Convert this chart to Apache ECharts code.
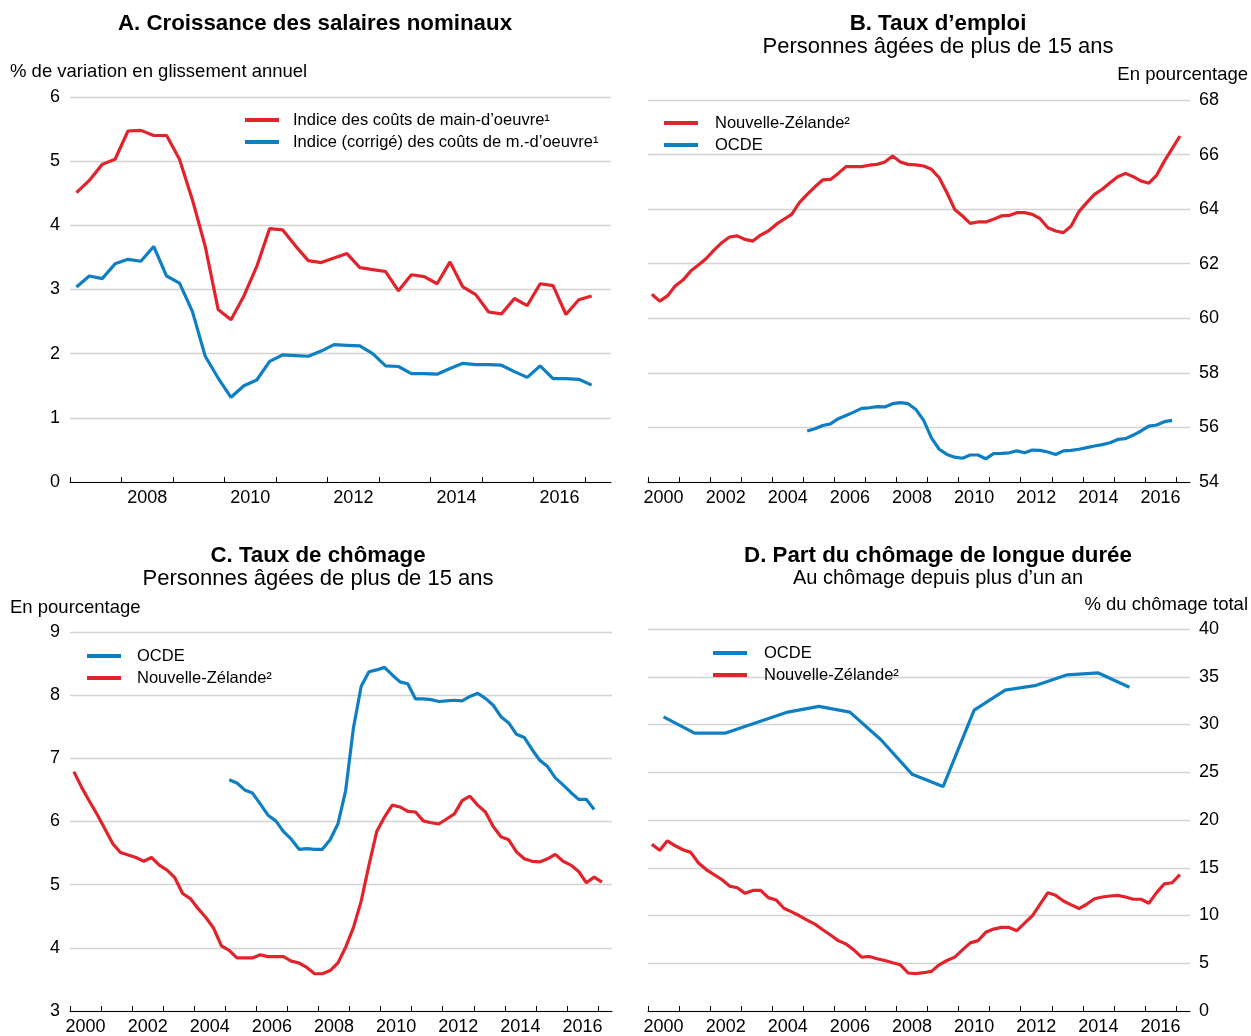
<!DOCTYPE html>
<html>
<head>
<meta charset="utf-8">
<script src="https://cdn.jsdelivr.net/npm/echarts@6/dist/echarts.min.js"></script>
<style>
html,body{margin:0;padding:0;background:#fff;}
#chart{width:1251px;height:1036px;}
</style>
</head>
<body>
<div id="chart"></div>
<script>
// ---------- Data ----------
// Panel A: quarterly, 2007Q1 - 2017Q1 (% y/y)
const A_START = 2007;
const A_lci = [4.51,4.70,4.95,5.03,5.47,5.48,5.40,5.40,5.03,4.40,3.67,2.69,2.53,2.90,3.36,3.95,3.93,3.68,3.45,3.42,3.49,3.56,3.34,3.31,3.28,2.98,3.23,3.20,3.09,3.43,3.04,2.92,2.65,2.62,2.86,2.75,3.09,3.06,2.61,2.84,2.90];
const A_lciAdj = [3.04,3.21,3.17,3.40,3.47,3.44,3.67,3.21,3.10,2.66,1.96,1.62,1.32,1.50,1.59,1.88,1.98,1.97,1.96,2.04,2.14,2.13,2.12,2.00,1.81,1.80,1.69,1.69,1.68,1.77,1.85,1.83,1.83,1.82,1.72,1.63,1.81,1.61,1.61,1.60,1.51];

// Panel B: employment rate, NZ 2000Q1-2017Q1, OECD 2005Q1-2016Q4
const B_NZ_START = 2000;
const B_nz = [60.88,60.63,60.82,61.18,61.40,61.73,61.95,62.19,62.50,62.77,62.98,63.02,62.89,62.83,63.05,63.20,63.44,63.63,63.81,64.24,64.54,64.82,65.07,65.09,65.31,65.56,65.56,65.56,65.61,65.64,65.73,65.95,65.73,65.64,65.62,65.58,65.46,65.15,64.60,63.99,63.75,63.48,63.53,63.53,63.63,63.75,63.77,63.87,63.87,63.81,63.65,63.32,63.20,63.14,63.38,63.91,64.24,64.54,64.73,64.97,65.19,65.31,65.19,65.03,64.95,65.24,65.76,66.22,66.68];
const B_OECD_START = 2005;
const B_oecd = [55.87,55.95,56.07,56.13,56.32,56.44,56.56,56.70,56.72,56.76,56.75,56.87,56.91,56.87,56.66,56.26,55.62,55.20,55.01,54.91,54.87,54.99,54.99,54.85,55.04,55.05,55.07,55.14,55.07,55.17,55.16,55.10,55.01,55.14,55.16,55.20,55.26,55.32,55.37,55.44,55.56,55.59,55.72,55.87,56.05,56.09,56.21,56.26];

// Panel C: unemployment rate, NZ 2000Q1-2017Q1, OECD 2005Q1-2016Q4
const C_NZ_START = 2000;
const C_nz = [6.79,6.54,6.32,6.11,5.88,5.65,5.51,5.47,5.43,5.37,5.43,5.31,5.23,5.11,4.86,4.78,4.62,4.48,4.31,4.03,3.96,3.84,3.84,3.84,3.89,3.86,3.86,3.86,3.79,3.76,3.69,3.59,3.59,3.64,3.76,4.01,4.32,4.74,5.31,5.84,6.07,6.26,6.23,6.16,6.15,6.01,5.98,5.96,6.04,6.12,6.33,6.40,6.26,6.15,5.92,5.76,5.71,5.52,5.41,5.37,5.36,5.41,5.48,5.37,5.31,5.21,5.03,5.12,5.04];
const C_OECD_START = 2005;
const C_oecd = [6.66,6.61,6.50,6.45,6.28,6.10,6.01,5.84,5.72,5.56,5.57,5.56,5.56,5.71,5.96,6.49,7.48,8.14,8.37,8.40,8.44,8.32,8.21,8.18,7.94,7.94,7.93,7.90,7.91,7.92,7.91,7.98,8.03,7.95,7.84,7.66,7.56,7.38,7.33,7.14,6.97,6.87,6.69,6.58,6.46,6.35,6.35,6.19];

// Panel D: long-term unemployment share, NZ quarterly 2000Q1-2017Q1, OECD annual 2000-2015
const D_NZ_START = 2000;
const D_nz = [17.47,16.82,17.82,17.30,16.89,16.61,15.50,14.81,14.29,13.77,13.08,12.91,12.32,12.63,12.63,11.87,11.63,10.76,10.38,9.97,9.52,9.10,8.51,7.96,7.37,7.02,6.40,5.64,5.71,5.47,5.29,5.05,4.84,3.98,3.91,4.01,4.15,4.84,5.29,5.64,6.40,7.13,7.37,8.24,8.58,8.75,8.75,8.41,9.20,9.97,11.18,12.39,12.11,11.52,11.11,10.73,11.18,11.76,11.94,12.04,12.11,11.94,11.70,11.70,11.28,12.39,13.32,13.43,14.29];
const D_OECD_START = 2000;
const D_oecd = [30.8,29.1,29.1,30.2,31.3,31.9,31.3,28.4,24.8,23.5,31.5,33.6,34.1,35.2,35.4,33.9];

// Axis ticks / labels
const A_tickYears = [2007,2008,2009,2010,2011,2012,2013,2014,2015,2016,2017];
const A_labelYears = [2008,2010,2012,2014,2016];
const L_tickYears = [2000,2001,2002,2003,2004,2005,2006,2007,2008,2009,2010,2011,2012,2013,2014,2015,2016,2017];
const L_labelYears = [2000,2002,2004,2006,2008,2010,2012,2014,2016];

// Series names
const N_LCI = 'Indice des coûts de main-d’oeuvre¹';
const N_LCIADJ = 'Indice (corrigé) des coûts de m.-d’oeuvre¹';
const N_NZ = 'Nouvelle-Zélande²';
const N_OECD = 'OCDE';

// ---------- Helpers ----------
const RED = '#e2232b';
const BLUE = '#0f7fc4';
const FONT = '"Liberation Sans", Arial, Helvetica, sans-serif';
const quarterly = (start, vals) => vals.map((v, i) => [start + (i + 0.5) / 4, v]);
const annual = (start, vals) => vals.map((v, i) => [start + i + 0.5, v]);

function xAxisDef(gridIndex, min, max, ticks, labels) {
  return {
    type: 'value', gridIndex, min, max, position: 'bottom',
    axisLine: {show: true, lineStyle: {color: '#000', width: 1}},
    axisTick: {show: true, inside: true, length: 5, lineStyle: {color: '#000', width: 1}, customValues: ticks},
    axisLabel: {show: true, customValues: labels.map(y => y + 0.5), formatter: v => String(Math.floor(v)),
      color: '#000', fontSize: 18, fontFamily: FONT, margin: 7},
    splitLine: {show: false}
  };
}
function yAxisDef(gridIndex, min, max, interval, pos) {
  return {
    type: 'value', gridIndex, min, max, interval, position: pos,
    axisLine: {show: false}, axisTick: {show: false},
    axisLabel: {color: '#000', fontSize: 18, fontFamily: FONT, margin: pos === 'left' ? 10 : 9},
    splitLine: {show: true, lineStyle: {color: '#d3d3d3', width: 1.3}}
  };
}
function lineSeries(name, data, color, idx) {
  return {
    type: 'line', name, data, xAxisIndex: idx, yAxisIndex: idx,
    showSymbol: false, symbol: 'none', smooth: false, animation: false,
    lineStyle: {color, width: 3.2}, itemStyle: {color}
  };
}
function legendDef(names, left, top, padLeft) {
  return {
    orient: 'vertical', left, top, data: names, padding: 0,
    icon: 'rect', itemWidth: 34, itemHeight: 4, itemGap: 2,
    selectedMode: false,
    textStyle: {color: '#000', fontSize: 16.5, fontFamily: FONT, lineHeight: 20, padding: [0, 0, 0, padLeft]}
  };
}
function txt(text, x, y, opts) {
  return {
    type: 'text', x, y, silent: true,
    style: {text, fill: '#000', font: (opts.bold ? 'bold ' : '') + opts.size + 'px ' + FONT,
      textAlign: opts.align || 'center', textVerticalAlign: 'middle'}
  };
}

const option = {
  animation: false,
  backgroundColor: '#fff',
  grid: [
    {left: 70, top: 97, width: 541, height: 385},
    {left: 648, top: 100, width: 542, height: 382},
    {left: 70, top: 632, width: 542, height: 384},
    {left: 648, top: 629, width: 542, height: 386}
  ],
  xAxis: [
    xAxisDef(0, 2007, 2017.5, A_tickYears, A_labelYears),
    xAxisDef(1, 2000, 2017.45, L_tickYears, L_labelYears),
    xAxisDef(2, 2000, 2017.45, L_tickYears, L_labelYears),
    xAxisDef(3, 2000, 2017.45, L_tickYears, L_labelYears)
  ],
  yAxis: [
    yAxisDef(0, 0, 6, 1, 'left'),
    yAxisDef(1, 54, 68, 2, 'right'),
    yAxisDef(2, 3, 9, 1, 'left'),
    yAxisDef(3, 0, 40, 5, 'right')
  ],
  legend: [
    legendDef([N_LCI, N_LCIADJ], 245, 110, 9),
    legendDef([N_NZ, N_OECD], 664, 113, 12),
    legendDef([N_OECD, N_NZ], 87, 646, 11),
    legendDef([N_OECD, N_NZ], 713, 643, 12)
  ],
  series: [
    lineSeries(N_LCI, quarterly(A_START, A_lci), RED, 0),
    lineSeries(N_LCIADJ, quarterly(A_START, A_lciAdj), BLUE, 0),
    lineSeries(N_NZ, quarterly(B_NZ_START, B_nz), RED, 1),
    lineSeries(N_OECD, quarterly(B_OECD_START, B_oecd), BLUE, 1),
    lineSeries(N_OECD, quarterly(C_OECD_START, C_oecd), BLUE, 2),
    lineSeries(N_NZ, quarterly(C_NZ_START, C_nz), RED, 2),
    lineSeries(N_OECD, annual(D_OECD_START, D_oecd), BLUE, 3),
    lineSeries(N_NZ, quarterly(D_NZ_START, D_nz), RED, 3)
  ],
  graphic: [
    txt('A. Croissance des salaires nominaux', 315, 24, {bold: true, size: 22.3}),
    txt('% de variation en glissement annuel', 10, 72, {size: 18.5, align: 'left'}),
    txt('B. Taux d’emploi', 938, 24, {bold: true, size: 22.3}),
    txt('Personnes âgées de plus de 15 ans', 938, 47, {size: 22}),
    txt('En pourcentage', 1248, 75, {size: 18.5, align: 'right'}),
    txt('C. Taux de chômage', 318, 556, {bold: true, size: 22.3}),
    txt('Personnes âgées de plus de 15 ans', 318, 579, {size: 22}),
    txt('En pourcentage', 10, 608, {size: 18.5, align: 'left'}),
    txt('D. Part du chômage de longue durée', 938, 556, {bold: true, size: 22.3}),
    txt('Au chômage depuis plus d’un an', 938, 578, {size: 20}),
    txt('% du chômage total', 1248, 605, {size: 18.5, align: 'right'})
  ]
};

const chart = echarts.init(document.getElementById('chart'), null, {renderer: 'canvas'});
chart.setOption(option);
</script>
</body>
</html>
